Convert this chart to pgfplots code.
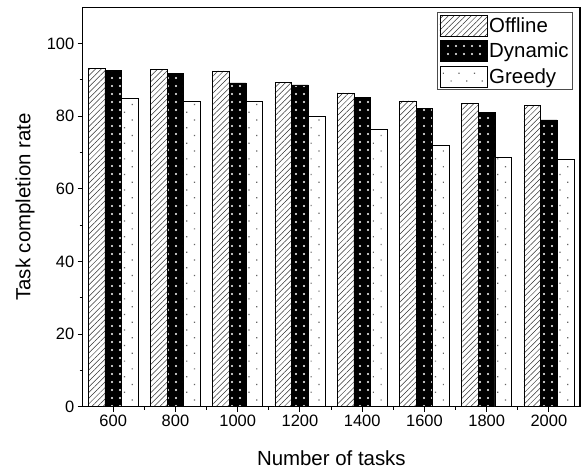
\documentclass[border=0pt]{standalone}
\usepackage{pgfplots}
\pgfplotsset{compat=1.18}
\usetikzlibrary{patterns.meta}
\usepackage{fontspec}
\setmainfont{Liberation Sans}
\begin{document}
\begin{tikzpicture}
\path[use as bounding box] (-82.7bp,-63.3bp) rectangle (503.3bp,406.7bp);
\begin{axis}[
  at={(0,0)}, anchor=south west,
  scale only axis, width=497.3bp, height=399.4bp,
  xmin=-0.49, xmax=7.5, ymin=0, ymax=110,
  ybar=0pt, bar width=16.7bp,
  xtick={0,...,7},
  xticklabels={600,800,1000,1200,1400,1600,1800,2000},
  minor xtick={0.5,1.5,...,6.5},
  ytick={0,20,...,100}, minor ytick={10,30,...,90},
  tick align=outside, xtick pos=bottom, ytick pos=left,
  major tick length=5bp, minor tick length=3bp,
  axis line style={line width=1.1bp},
  every tick/.style={black, line width=1bp},
  /pgf/number format/assume math mode=true,
  ticklabel style={font=\fontsize{16.5}{19}\selectfont},
  xlabel={Number of tasks}, ylabel={Task completion rate},
  label style={font=\fontsize{20.5}{24}\selectfont},
  xlabel style={at={(axis description cs:0.5,-0.128)}, anchor=center},
  ylabel style={at={(axis description cs:-0.116,0.5)}, anchor=center},
  legend style={at={(rel axis cs:0.986,0.987)}, anchor=north east,
    draw=black!70, line width=0.8bp, font=\fontsize{20.5}{24}\selectfont,
    inner xsep=2bp, inner ysep=2bp, row sep=4bp},
  legend cell align=left,
  legend image code/.code={\draw[#1, line width=0.6bp] (0bp,-10.5bp) rectangle (47bp,10.5bp);},
]
\addplot[draw=black, line width=0.6bp, fill=white,
  postaction={pattern={Lines[angle=45,distance=4bp,line width=0.5bp]}, pattern color=black!80}]
  coordinates {(0,93.2) (1,92.8) (2,92.5) (3,89.3) (4,86.4) (5,84.2) (6,83.5) (7,82.9)};
\addplot[draw=black, line width=0.6bp, fill=black,
  postaction={pattern={Dots[distance=8bp,radius=1.1bp]}, pattern color=white}]
  coordinates {(0,92.6) (1,91.9) (2,89.2) (3,88.6) (4,85.2) (5,82.2) (6,81.0) (7,79.0)};
\addplot[draw=black, line width=0.6bp, fill=white,
  postaction={pattern={Dots[distance=11bp,angle=45,radius=0.85bp]}, pattern color=black!60}]
  coordinates {(0,84.8) (1,84.2) (2,84.0) (3,80.0) (4,76.4) (5,71.9) (6,68.7) (7,68.1)};
\legend{Offline,Dynamic,Greedy}
\end{axis}
\end{tikzpicture}
\end{document}
